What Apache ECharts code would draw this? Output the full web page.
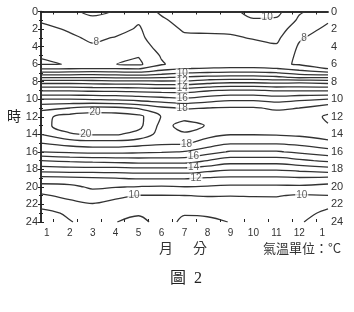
<!DOCTYPE html>
<html><head><meta charset="utf-8">
<script src="https://cdn.jsdelivr.net/npm/echarts@6/dist/echarts.min.js"></script>
<style>html,body{margin:0;padding:0;background:#fff}#c{width:354px;height:312px}</style>
</head><body><div id="c"></div>
<script>
// grid columns (month positions; first/last are the plot edges = January)
const gridMonths = [0.75, 2, 3, 4, 5, 6, 7, 8, 9, 10, 11, 12, 13.25];
// grid rows (hour of day)
const gridHours = [0,1,2,3,4,5,6,6.5,7,7.5,8,9,10,11,12,13,14,15,16,17,18,19,20,21,22,23,24];
// temperature (°C) per month column, one value per grid hour
const janStart = [8.6,8.1,7.75,7.5,7.35,7.03,6.95,7.9,9.2,10.9,12.5,14.9,17.0,18.7,19.7,19.7,19.0,18.0,17.0,15.0,13.5,11.7,10.6,9.85,9.3,8.7,8.5];
const feb = [8.8,8.45,8.1,7.85,7.6,7.3,7.02,7.92,9.3,10.9,12.5,14.9,17.0,19.0,20.4,20.5,19.9,18.4,17.2,15.2,13.6,11.8,10.7,10.25,9.7,9.15,8.95];
const mar = [9.25,8.75,8.45,8.15,7.9,7.5,7.3,7.95,9.4,10.9,12.4,14.8,16.9,19.3,20.6,20.7,20.1,18.6,17.3,15.3,13.6,11.9,11.2,10.4,9.95,9.55,9.3];
const apr = [8.95,8.6,8.3,7.95,7.6,7.2,7.01,7.95,9.3,10.8,12.3,14.8,16.8,19.2,20.6,20.7,20.1,18.6,17.3,15.4,13.6,12.0,11.05,10.2,9.7,9.3,9.02];
const may = [8.5,8.1,7.9,7.8,7.6,7.06,6.8,7.9,9.2,10.8,12.3,14.7,16.6,18.9,20.3,20.3,19.7,18.4,17.2,15.5,13.7,12.1,10.95,9.95,9.5,9.1,8.75];
const jun = [9.15,8.85,8.65,8.5,8.3,8.1,7.9,8.6,9.6,10.9,12.2,14.6,16.4,18.2,18.95,18.7,18.6,18.2,17.1,15.5,13.7,12.1,10.9,9.95,9.55,9.35,9.3];
const jul = [9.6,9.35,9.1,8.85,8.6,8.4,8.5,8.98,9.95,11.1,12.2,14.6,16.2,17.9,18.75,19.3,18.9,18.15,16.95,15.5,13.7,12.1,10.98,9.98,9.5,9.05,8.85];
const aug = [9.7,9.45,9.15,8.85,8.6,8.45,8.55,9.05,10.1,11.3,12.5,14.9,16.5,18.0,18.7,18.95,18.3,17.6,16.4,15.0,13.4,11.9,10.9,10.05,9.5,9.1,8.85];
const sep = [9.75,9.5,9.15,8.9,8.65,8.5,8.6,9.1,10.2,11.4,12.7,15.1,16.8,18.1,18.8,18.9,18.05,17.1,15.9,14.5,13.1,11.8,10.8,10.02,9.6,9.3,9.02];
const oct = [10.35,9.9,9.5,9.05,8.75,8.55,8.6,9.1,10.2,11.4,12.7,15.1,16.8,18.1,18.8,18.9,18.05,17.1,15.9,14.5,13.1,11.8,10.8,10.05,9.6,9.35,9.2];
const nov = [10.3,9.85,9.5,9.2,8.9,8.5,8.2,9.02,10.05,11.2,12.6,14.9,16.6,17.8,18.6,18.8,18.1,17.1,15.9,14.5,13.1,11.8,10.8,10.05,9.65,9.4,9.3];
const dec = [9.1,8.85,8.45,8.1,7.9,7.85,7.9,8.6,9.6,10.8,12.7,14.9,16.8,18.0,18.4,18.4,18.2,17.3,16.2,14.8,13.3,11.9,10.8,9.9,9.6,9.3,9.1];
const janEnd = [8.6,8.1,7.8,7.6,7.45,7.3,7.2,7.95,9.2,10.9,12.5,14.9,17.0,18.6,19.15,18.95,18.5,17.7,16.6,15.2,13.6,11.8,10.6,9.98,9.2,8.8,8.5];
const columns = [janStart, feb, mar, apr, may, jun, jul, aug, sep, oct, nov, dec, janEnd];

const contourLevels = [7,8,9,10,11,12,13,14,15,16,17,18,19,20];
// axis labels
const monthLabelValues = [1,2,3,4,5,6,7,8,9,10,11,12,13];
const monthLabelText = ['1','2','3','4','5','6','7','8','9','10','11','12','1'];
const monthTickValues = [0.5,1.5,2.5,3.5,4.5,5.5,6.5,7.5,8.5,9.5,10.5,11.5];
// contour labels: [level, approx month, approx hour]
const labelHints = [
  [8,3.2,3.8],[10,10.6,0.7],[8,12.3,3.4],
  [10,6.9,7.0],[12,6.9,7.9],[14,6.9,8.75],[16,6.9,9.9],[18,6.9,11.05],
  [20,3.1,11.6],[20,2.7,14.1],
  [18,7.1,15.2],[16,7.4,16.75],[14,7.4,17.8],[12,7.5,19.05],
  [10,4.8,20.9],[10,12.1,21.5]
];

function buildContours(level){
  const nx = gridMonths.length, ny = gridHours.length;
  const V = (i,j) => columns[i][j];
  const pt = (i1,j1,i2,j2) => {
    const v1 = V(i1,j1), v2 = V(i2,j2), t = (level - v1)/(v2 - v1);
    return [gridMonths[i1] + t*(gridMonths[i2]-gridMonths[i1]), gridHours[j1] + t*(gridHours[j2]-gridHours[j1])];
  };
  const segs = [];
  for (let i=0;i<nx-1;i++) for (let j=0;j<ny-1;j++){
    const a=V(i,j)>=level, b=V(i+1,j)>=level, c=V(i+1,j+1)>=level, d=V(i,j+1)>=level;
    const e=[];
    if(a!==b) e.push({k:'h'+i+'_'+j, p:pt(i,j,i+1,j)});
    if(b!==c) e.push({k:'v'+(i+1)+'_'+j, p:pt(i+1,j,i+1,j+1)});
    if(c!==d) e.push({k:'h'+i+'_'+(j+1), p:pt(i,j+1,i+1,j+1)});
    if(a!==d) e.push({k:'v'+i+'_'+j, p:pt(i,j,i,j+1)});
    if(e.length===2) segs.push([e[0],e[1]]);
    else if(e.length===4){
      const center=(V(i,j)+V(i+1,j)+V(i+1,j+1)+V(i,j+1))/4>=level;
      if(center===a){ segs.push([e[0],e[1]]); segs.push([e[2],e[3]]); }
      else { segs.push([e[3],e[0]]); segs.push([e[1],e[2]]); }
    }
  }
  const map=new Map();
  segs.forEach((s,idx)=>{ for(const q of s){ if(!map.has(q.k)) map.set(q.k,[]); map.get(q.k).push(idx);} });
  const used=new Array(segs.length).fill(false);
  const walk=(start,edgeKey)=>{
    let idx=start, cur=edgeKey; const pts=[];
    const s0=segs[idx]; pts.push((s0[0].k===cur?s0[0]:s0[1]).p);
    while(idx!==-1 && !used[idx]){
      used[idx]=true; const s=segs[idx];
      const other = s[0].k===cur ? s[1] : s[0];
      pts.push(other.p); cur=other.k;
      const nb=map.get(cur).filter(n=>!used[n]);
      idx = nb.length ? nb[0] : -1;
    }
    return pts;
  };
  const lines=[];
  segs.forEach((s,idx)=>{ if(used[idx]) return; for(const q of s){ if(map.get(q.k).length===1){ lines.push(walk(idx,q.k)); return; } } });
  segs.forEach((s,idx)=>{ if(!used[idx]) lines.push(walk(idx,s[0].k)); });
  return lines;
}

const contourMap = {};
const series = [];
contourLevels.forEach(lv=>{
  const lines = buildContours(lv + 1e-9);
  contourMap[lv] = lines;
  lines.forEach(pts=>{
    if (pts.length<2) return;
    series.push({type:'line', data:pts, showSymbol:false, symbol:'none', smooth:0.35, silent:true, z:2,
      lineStyle:{color:'#333', width:1.3}, xAxisIndex:0, yAxisIndex:0, animation:false});
  });
});

// label positions: nearest point on the contour of that level to the hint
const SX=23, SY=8.75;
const labelData = labelHints.map(([lv,mx,hy])=>{
  let best=null, bd=Infinity;
  (contourMap[lv]||[]).forEach(pts=>{
    for(let k=0;k<pts.length-1;k++){
      const ax=pts[k][0]*SX, ay=pts[k][1]*SY, bx=pts[k+1][0]*SX, by=pts[k+1][1]*SY;
      const px=mx*SX, py=hy*SY; const dx=bx-ax, dy=by-ay; const L=dx*dx+dy*dy;
      let t = L>0 ? ((px-ax)*dx+(py-ay)*dy)/L : 0; t=Math.max(0,Math.min(1,t));
      const qx=ax+t*dx, qy=ay+t*dy; const d=(qx-px)**2+(qy-py)**2;
      if(d<bd){bd=d; best=[qx/SX,qy/SY,lv];}
    }
  });
  return best || [mx,hy,lv];
});
series.push({type:'scatter', data:labelData, symbolSize:1, itemStyle:{color:'rgba(0,0,0,0)'}, z:5, silent:true, animation:false,
  label:{show:true, position:'inside', formatter:p=>String(p.value[2]), fontSize:10, lineHeight:9, color:'#333',
    fontFamily:'Liberation Sans', backgroundColor:'#fff', padding:[0,1]}});

const axisCol = '#222';
const chart = echarts.init(document.getElementById('c'), null, {renderer:'canvas'});
chart.setOption({
  animation:false,
  backgroundColor:'#fff',
  grid:{left:41, right:26, top:11.5, bottom:90, containLabel:false},
  xAxis:[
    {type:'value', position:'bottom', min:0.75, max:13.25, splitLine:{show:false},
     axisLine:{lineStyle:{color:axisCol, width:1.5}}, axisTick:{show:false},
     axisLabel:{customValues:monthLabelValues, formatter:v=>monthLabelText[monthLabelValues.indexOf(v)] ?? '', fontSize:10, color:'#333', margin:6, fontFamily:'Liberation Sans'}},
    {type:'value', position:'top', min:0.75, max:13.25, splitLine:{show:false},
     axisLine:{lineStyle:{color:axisCol, width:1.5}}, axisTick:{show:false}, axisLabel:{show:false}},
    {type:'value', position:'bottom', min:0, max:12, splitLine:{show:false}, axisLine:{show:false},
     axisTick:{show:true, inside:true, length:3, customValues:monthTickValues, lineStyle:{color:axisCol}}, axisLabel:{show:false}},
    {type:'value', position:'top', min:0, max:12, splitLine:{show:false}, axisLine:{show:false},
     axisTick:{show:true, inside:true, length:3, customValues:monthTickValues, lineStyle:{color:axisCol}}, axisLabel:{show:false}}
  ],
  yAxis:[
    {type:'value', inverse:true, min:0, max:24, interval:2, position:'left', splitLine:{show:false},
     axisLine:{show:true, lineStyle:{color:axisCol, width:1.5}}, axisTick:{show:true, length:3, lineStyle:{color:axisCol}},
     minorTick:{show:true, splitNumber:2, length:2, lineStyle:{color:axisCol}},
     axisLabel:{fontSize:11, color:'#333', margin:3, fontFamily:'Liberation Sans'}},
    {type:'value', inverse:true, min:0, max:24, interval:2, position:'right', splitLine:{show:false},
     axisLine:{show:true, lineStyle:{color:axisCol, width:1.5}}, axisTick:{show:true, length:3, lineStyle:{color:axisCol}},
     minorTick:{show:true, splitNumber:2, length:2, lineStyle:{color:axisCol}},
     axisLabel:{fontSize:11, color:'#333', margin:3, fontFamily:'Liberation Sans'}}
  ],
  graphic:[
    {type:'text', left:7, top:109, style:{text:'時', fontSize:14, fill:'#222', fontFamily:'Noto Sans CJK TC'}},
    {type:'text', left:159, top:241, style:{text:'月', fontSize:14, fill:'#333', fontFamily:'Noto Sans CJK TC'}},
    {type:'text', left:193, top:241, style:{text:'分', fontSize:14, fill:'#333', fontFamily:'Noto Sans CJK TC'}},
    {type:'text', left:263, top:242, style:{text:'氣溫單位：°C', fontSize:13, fill:'#333', fontFamily:'Noto Sans CJK TC'}},
    {type:'text', left:170, top:271, style:{text:'圖  2', fontSize:16, fill:'#222', fontFamily:'Liberation Serif, Noto Sans CJK TC'}}
  ],
  series: series
});
</script></body></html>
